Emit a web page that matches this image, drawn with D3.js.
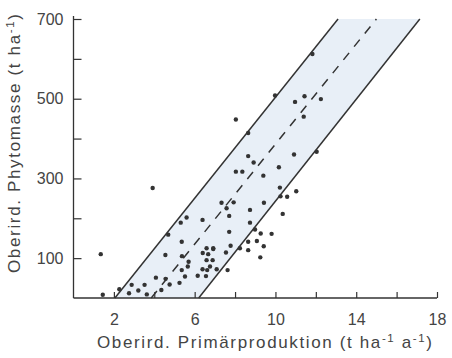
<!DOCTYPE html>
<html><head><meta charset="utf-8">
<script src="https://cdn.jsdelivr.net/npm/d3@7"></script>
<style>
html,body{margin:0;padding:0;background:#fff;}
svg{display:block;}
text{font-family:"Liberation Sans",Arial,sans-serif;}
</style></head>
<body>
<svg id="chart" width="452" height="358"></svg>
<script>
// ---- data ----
const xTicks = [2,4,6,8,10,12,14,16,18];
const xTickLabels = [2,6,10,14,18];
const yTicks = [100,200,300,400,500,600,700];
const yTickLabels = [100,300,500,700];

// band lines: [production, phytomass] endpoints
const upperLine  = [[2.05,0],[13.1,700]];
const centerLine = [[3.85,0],[15.0,700]];
const lowerLine  = [[6.2,0],[17.15,700]];

const prodX = [1.35,1.45,2.27,2.88,2.75,3.21,3.52,3.63,3.92,4.08,4.35,4.56,4.55,4.69,4.76,5.25,5.31,5.36,5.37,5.70,5.66,5.36,5.52,5.60,
  6.15,6.39,6.56,6.62,6.39,6.59,6.40,6.67,6.92,6.59,6.89,6.76,7.09,7.33,7.58,7.71,7.71,7.55,7.78,7.63,7.93,8.24,8.74,8.74,8.65,8.65,
  8.04,8.65,8.65,8.92,8.04,8.36,9.40,10.17,9.98,10.97,11.44,12.25,11.40,11.83,12.04,10.92,10.22,10.58,11.03,10.36,10.25,9.43,8.99,9.27,
  9.81,9.08,9.42,9.25,6.92];
const massY = [110,8,22,33,12,19,33,9,276,51,20,48,108,159,34,38,189,141,105,91,79,70,54,202,
  56,72,55,70,196,125,113,110,123,95,95,79,72,239,225,206,166,114,131,70,240,125,221,189,141,120,
  448,414,356,340,317,317,307,328,508,492,506,499,455,612,367,360,277,254,268,211,255,239,172,162,
  161,143,130,102,125];

const xTitle = [{t:"Oberird. Primärproduktion (t ha"},{t:"-1",sup:true},{t:" a"},{t:"-1",sup:true},{t:")"}];
const yTitle = [{t:"Oberird. Phytomasse (t ha"},{t:"-1",sup:true},{t:")"}];

// ---- chart ----
const svg = d3.select("#chart");
const x = d3.scaleLinear().domain([0,18]).range([73.5,437]);
const y = d3.scaleLinear().domain([0,700]).range([298,19]);
const ink = "#333";

// shaded band
const bandPts = [upperLine[0], upperLine[1], lowerLine[1], lowerLine[0]];
svg.append("path")
  .attr("d", d3.line().x(d=>x(d[0])).y(d=>y(d[1]))(bandPts) + "Z")
  .attr("fill", "#e8eff7");

// lines
const ln = d3.line().x(d=>x(d[0])).y(d=>y(d[1]));
svg.append("path").attr("d", ln(upperLine)).attr("stroke", ink).attr("stroke-width",1.5).attr("fill","none");
svg.append("path").attr("d", ln(lowerLine)).attr("stroke", ink).attr("stroke-width",1.5).attr("fill","none");
svg.append("path").attr("d", ln(centerLine)).attr("stroke", ink).attr("stroke-width",1.5).attr("fill","none")
  .attr("stroke-dasharray","9,8");

// points
svg.append("g").selectAll("circle").data(prodX.map((v,i)=>[v,massY[i]]))
  .join("circle").attr("cx",d=>x(d[0])).attr("cy",d=>y(d[1])).attr("r",2.2).attr("fill",ink);

// axes
const xAxis = d3.axisBottom(x).tickValues(xTicks).tickSizeInner(-6).tickSizeOuter(0)
  .tickFormat(d => xTickLabels.includes(d) ? d : "");
const gx = svg.append("g").attr("transform",`translate(0,${y(0)})`).call(xAxis);
gx.select(".domain").attr("d", `M${x(0)},0H${x(18)}`).attr("stroke",ink).attr("stroke-width",1.3);
gx.selectAll(".tick line").attr("stroke",ink).attr("stroke-width",1.2);
gx.selectAll(".tick text").attr("y",16).attr("dy","0.71em").attr("font-size",16).attr("fill","#444")
  .attr("font-family","Liberation Sans, Arial, sans-serif");

const yAxis = d3.axisLeft(y).tickValues(yTicks).tickSizeInner(-8).tickSizeOuter(0)
  .tickFormat(d => yTickLabels.includes(d) ? d : "");
const gy = svg.append("g").attr("transform",`translate(${x(0)},0)`).call(yAxis);
gy.select(".domain").attr("d", `M0,${y(0)}V${y(700)-3}`).attr("stroke",ink).attr("stroke-width",1.3);
gy.selectAll(".tick line").attr("stroke",ink).attr("stroke-width",1.2);
gy.selectAll(".tick text").attr("x",-10).attr("font-size",16).attr("fill","#444")
  .attr("font-family","Liberation Sans, Arial, sans-serif");

// spaced title helper: per-character tspans, extra spacing to reach target width
function spacedTitle(el, segs, target){
  const chars = [];
  let prevSup = false;
  segs.forEach(s => {
    [...s.t].forEach((c,i) => {
      let dy = 0;
      if (i === 0 && !!s.sup !== prevSup) dy = s.sup ? -6 : 6;
      chars.push({c, sup:!!s.sup, dy});
    });
    prevSup = !!s.sup;
  });
  const spans = el.selectAll("tspan").data(chars).join("tspan")
    .attr("font-size", d => d.sup ? 11.5 : 17)
    .attr("dy", d => d.dy)
    .text(d => d.c);
  const w = el.node().getComputedTextLength();
  const extra = Math.max(0, (target - w) / (chars.length - 1));
  spans.attr("dx", (d,i) => i === 0 ? 0 : extra);
}

// axis titles
const xt = svg.append("text").attr("x", 97).attr("y", 348).attr("text-anchor","start").attr("fill","#444");
spacedTitle(xt, xTitle, 335);

const yt = svg.append("text").attr("transform","translate(20,273) rotate(-90)").attr("text-anchor","start").attr("fill","#444");
spacedTitle(yt, yTitle, 259);
</script>
</body></html>
